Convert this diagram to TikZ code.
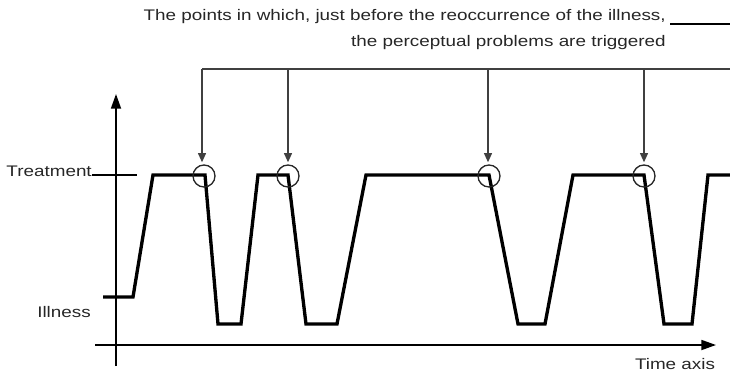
\documentclass[tikz,border=0pt]{standalone}
\usepackage{fontspec}
\newfontfamily\lblfont[FakeStretch=1.23]{Liberation Sans}
\usepackage{tikz}
\usetikzlibrary{arrows.meta}

\begin{document}
\begin{tikzpicture}[x=0.75pt,y=-0.75pt,
    lbl/.style={font=\lblfont\fontsize{11.5}{13}\selectfont, text=black!85, inner sep=0pt},
    axis/.style={line width=1.3pt, -{Triangle[length=11pt,width=7.5pt]}},
    tick/.style={line width=0.9pt},
    signal/.style={line width=2.5pt, line join=miter},
    ringmark/.style={circle, draw=black!85, line width=1pt, minimum size=16.5pt, inner sep=0pt},
    pointer/.style={line width=1.1pt, draw=black!75, -{Triangle[length=7pt,width=6pt]}, shorten >=1.5pt}]
    \useasboundingbox (0,0) rectangle (730,374);

    % caption
    \node[lbl, anchor=east] (lineone) at (666,17) {The points in which, just before the reoccurrence of the illness,};
    \node[lbl, anchor=east] (linetwo) at (666,43) {the perceptual problems are triggered};
    \coordinate (capend) at (730,24);
    \draw[line width=1.1pt] ([xshift=3pt]lineone.east |- capend) -- (capend);

    % axes
    \coordinate (yfoot) at (116,366);
    \coordinate (ytop) at (116,94);
    \coordinate (xfoot) at (95,345);
    \coordinate (xtop) at (716,345);
    \draw[axis] (yfoot) -- (ytop);
    \draw[axis] (xfoot) -- (xtop);
    \node[lbl, anchor=east] (treat) at (92,171) {Treatment};
    \node[lbl, anchor=east] (ill) at (91,312) {Illness};
    \node[lbl] (time) at (675,364) {Time axis};
    \draw[tick] (treat.east |- 0,175) -- (137,175);

    % course of the illness
    \draw[signal] (103,297) -- (133,297) -- (153,175) -- (205,175) -- (218,324) -- (241,324)
        -- (258,175) -- (288,175) -- (306,324) -- (337,324) -- (366,175) -- (489,175)
        -- (518,324) -- (545,324) -- (573,175) -- (644,175) -- (664,324) -- (692,324)
        -- (708,175) -- (730,175);

    % marked points
    \node[ringmark] (c1) at (204,176) {};
    \node[ringmark] (c2) at (288,176) {};
    \node[ringmark] (c3) at (489,176) {};
    \node[ringmark] (c4) at (644,176) {};

    \coordinate (t1) at (202,69);
    \coordinate (t2) at (288,69);
    \coordinate (t3) at (488,69);
    \coordinate (t4) at (644,69);
    \coordinate (tr) at (730,69);
    \draw[line width=1.1pt, draw=black!75] (t1) -- (tr);
    \draw[pointer] (t1) -- (t1 |- c1.north);
    \draw[pointer] (t2) -- (c2.north);
    \draw[pointer] (t3) -- (t3 |- c3.north);
    \draw[pointer] (t4) -- (c4.north);
\end{tikzpicture}
\end{document}
